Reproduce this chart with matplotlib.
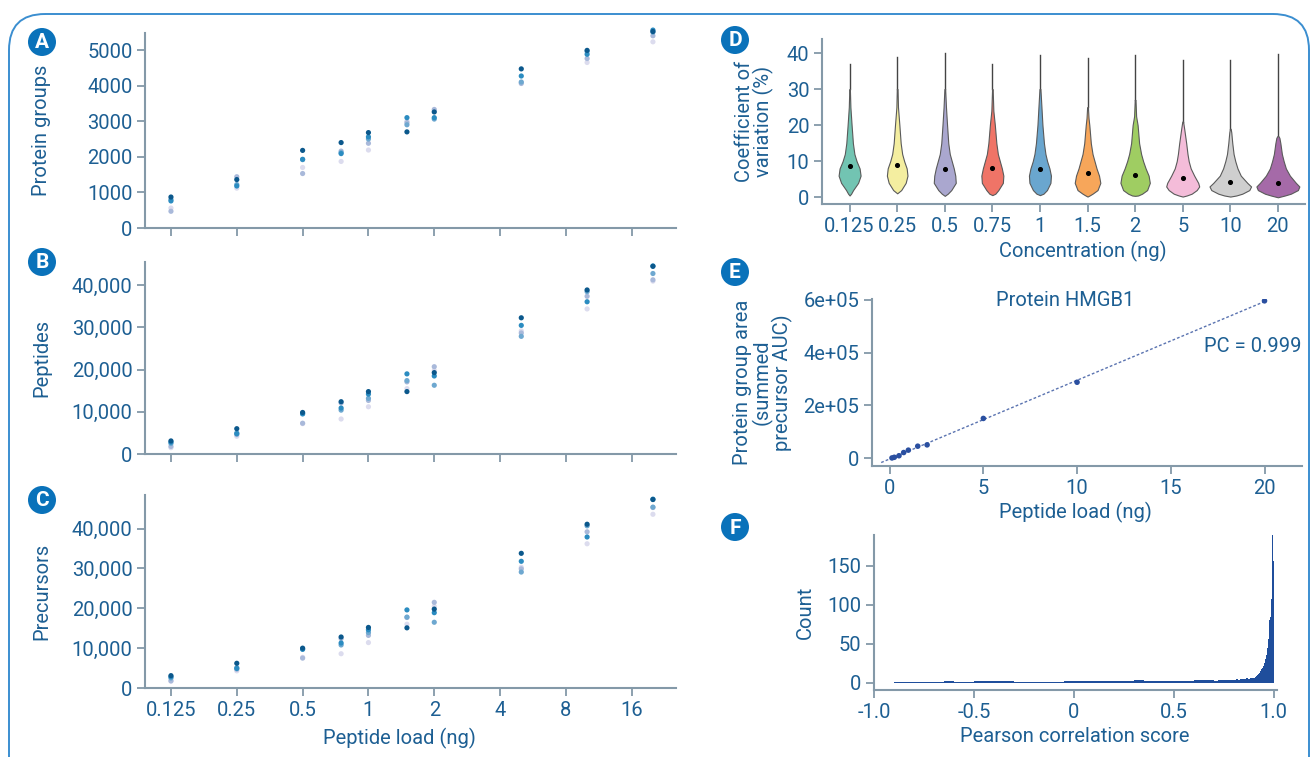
import numpy as np
import matplotlib
matplotlib.use("Agg")
import matplotlib.pyplot as plt
from matplotlib.patches import FancyBboxPatch, Circle

plt.rcParams['font.family'] = ['Roboto', 'DejaVu Sans']

# ---- data: panels A-C (five replicates per peptide load)
loads = [0.125, 0.25, 0.5, 0.75, 1, 1.5, 2, 5, 10, 20]
load_ticks = [0.125, 0.25, 0.5, 1, 2, 4, 8, 16]
load_tick_labels = ["0.125", "0.25", "0.5", "1", "2", "4", "8", "16"]

protein_groups = [
    [560, 1120, 1700, 1870, 2190, 3000, 3290, 4090, 4650, 5230],
    [470, 1440, 1530, 2160, 2380, 2960, 3330, 4060, 4760, 5400],
    [800, 1220, 1920, 2120, 2500, 2900, 3060, 4100, 4960, 5500],
    [760, 1180, 1930, 2090, 2560, 3100, 3100, 4270, 4880, 5560],
    [870, 1360, 2180, 2400, 2680, 2700, 3260, 4470, 4990, 5520],
]
peptides = [
    [1500, 4200, 7200, 8300, 11200, 15500, 19800, 29200, 34400, 41000],
    [1800, 4600, 7300, 12100, 12700, 17100, 20700, 28700, 37400, 41300],
    [2500, 5000, 9600, 10400, 13200, 17400, 16300, 27900, 38500, 42800],
    [2800, 4800, 9500, 10900, 14200, 19000, 18500, 30500, 36100, 44600],
    [3100, 6000, 9850, 12400, 14800, 14800, 19300, 32300, 38900, 44500],
]
precursors = [
    [1700, 4300, 7700, 8600, 11400, 16000, 20500, 30300, 36200, 43600],
    [1800, 4700, 7500, 12400, 13200, 17700, 21500, 29900, 39200, 45300],
    [2500, 5100, 9800, 10800, 13900, 17800, 16500, 29100, 40700, 45400],
    [2800, 4900, 9700, 11300, 14600, 19600, 18900, 31800, 37900, 47400],
    [3100, 6200, 10000, 12800, 15200, 15100, 19800, 33800, 41100, 47300],
]
rep_colors = ["#dcdcee", "#a9b9da", "#6ea8d0", "#2b8cc1", "#0b588c"]

# ---- data: panel D (violin outlines, half widths in px)
conc_labels = ["0.125", "0.25", "0.5", "0.75", "1", "1.5", "2", "5", "10", "20"]
vio_colors = ["#72c4b2", "#f4eea0", "#aaa7cf", "#ef7467", "#6aa6cf",
              "#f7a65a", "#9fcd62", "#f4bcd9", "#cfcfcf", "#a56aa8"]
vio_min = [0.5, 1.1, 0.4, 0.6, 0.6, 0.2, 0.4, 0.2, 0.2, 0.0]
vio_max = [37, 39, 40, 37, 39.5, 38.7, 39.5, 38, 38, 39.7]
vio_median = [8.7, 8.9, 7.9, 8.2, 7.9, 6.7, 6.2, 5.3, 4.2, 4.0]
vio_cv = [
    [1, 2, 4, 6, 8, 10, 12, 15, 20, 25, 30],
    [2, 4, 6, 8, 10, 12, 15, 20, 25, 30],
    [1, 2, 4, 6, 8, 10, 12, 15, 20, 25, 30],
    [1, 2, 4, 6, 8, 10, 12, 15, 20, 24, 30],
    [1, 2, 4, 6, 8, 10, 12, 15, 20, 25, 30],
    [0.5, 1, 2, 4, 6, 8, 10, 12, 15, 20, 22, 25],
    [0.5, 1, 2, 4, 6, 8, 10, 12, 15, 20, 22.5, 27],
    [0.5, 1, 2, 3, 4, 6, 8, 10, 12, 15, 19, 21],
    [0.5, 1, 2, 3, 4, 6, 8, 10, 12, 15, 18, 19],
    [0.5, 1, 2, 3, 4, 6, 8, 10, 12, 15, 16.5, 17],
]
vio_halfwidth = [
    [1.5, 3.5, 8.5, 11, 10, 7, 4.8, 3.3, 2, 0.8, 0.3],
    [4, 8.5, 10.3, 9.5, 7, 5, 3.5, 2.2, 0.8, 0.4],
    [3, 6.5, 11, 10.5, 9, 7, 5, 3.5, 2.3, 1.2, 0.4],
    [3, 6, 10.5, 11, 9.5, 7.5, 5.5, 4, 2.5, 1, 0.3],
    [3.5, 7, 10.5, 11, 9.5, 7.2, 5.5, 4, 2.5, 1.5, 0.5],
    [2, 5, 10, 12.8, 11.5, 9, 7, 5, 3.3, 1.8, 1, 0.4],
    [3, 7, 12, 14.7, 13.5, 10.5, 8, 6, 4, 2.5, 1, 0.4],
    [4, 9, 14, 16.5, 15.5, 11.5, 8, 6, 4.8, 3.5, 1.5, 0.4],
    [6, 12, 19, 20.8, 17, 10.5, 7.2, 5, 3.3, 2, 1, 0.4],
    [7, 13, 20, 21.5, 18, 12, 8, 5.8, 4, 2.5, 1.5, 0.4],
]

# ---- data: panel E
hmgb1_load = [0.125, 0.25, 0.5, 0.75, 1, 1.5, 2, 5, 10, 20]
hmgb1_area = [1500, 4000, 9800, 22000, 31000, 46000, 51000, 151000, 288000, 596000]

# ---- data: panel F (histogram of pearson scores)
hist_edges = ([-0.9 + 0.05 * i for i in range(32)]
              + [0.7 + 0.01 * i for i in range(20)]
              + [0.9 + 0.005 * i for i in range(21)])
hist_counts = ([1.5, 1.5, 1.5, 1.5, 1.5, 2, 1.5, 1.5, 2, 2, 2.5, 2, 1.5, 1.5, 1.5, 1.5,
                1.5, 2, 2, 2, 2, 2, 2.5, 2.5, 3, 2.5, 2.5, 2.5, 2.5, 2.5, 3, 3]
               + [2.5, 2.5, 3, 3, 3.5, 3, 3.5, 3.5, 4, 3.5, 4, 4.5, 4, 4.5, 5, 4.5, 5.5, 5, 5.5, 6]
               + [6, 7, 8, 9.5, 11, 13, 15, 17, 19, 22, 25, 30, 36, 45, 56, 80, 84, 108, 190, 156])

# ---- styling
text_col = "#1d5f93"
spine_col = "#8499a8"
badge_col = "#0a72ba"
border_col = "#3b8ed0"
fs = 14.5

W, H = 1312, 757
fig = plt.figure(figsize=(W / 100, H / 100), dpi=100)

# overlay for border and letter badges (pixel coordinates)
bg = fig.add_axes([0, 0, 1, 1], zorder=-1)
bg.set_xlim(0, W)
bg.set_ylim(H, 0)
bg.axis("off")
bg.add_patch(FancyBboxPatch((9, 14), 1300, 790, boxstyle="round,pad=0,rounding_size=36",
                            facecolor="none", edgecolor=border_col, linewidth=1.4))
for letter, (bx, by) in zip("ABCDEF", [(42, 42), (42, 262), (42, 500),
                                        (735, 40), (735, 272), (735, 527)]):
    bg.add_patch(Circle((bx, by), 14, facecolor=badge_col, edgecolor="none"))
    bg.text(bx, by + 1, letter, color="white", fontsize=15, fontweight="bold",
            ha="center", va="center")


def add_ax(l, t, r, b):
    ax = fig.add_axes([l / W, 1 - b / H, (r - l) / W, (b - t) / H])
    for s in ["top", "right"]:
        ax.spines[s].set_visible(False)
    for s in ["left", "bottom"]:
        ax.spines[s].set_color(spine_col)
        ax.spines[s].set_linewidth(1.5)
    ax.tick_params(colors=spine_col, labelcolor=text_col, labelsize=fs,
                   length=6, width=1.3, pad=3)
    ax.patch.set_alpha(0)
    return ax


# ---- panels A, B, C
scatter_panels = [
    (protein_groups, "Protein groups", (145, 33, 676, 228), 5478, [0, 1000, 2000, 3000, 4000, 5000], False),
    (peptides, "Peptides", (145, 262, 676, 454), 45530, [0, 10000, 20000, 30000, 40000], True),
    (precursors, "Precursors", (145, 495, 676, 688), 48440, [0, 10000, 20000, 30000, 40000], True),
]
for i, (reps, ylab, box, ytop, yt, comma) in enumerate(scatter_panels):
    ax = add_ax(*box)
    for vals, c in zip(reps, rep_colors):
        ax.scatter(loads, vals, s=14, color=c, edgecolors="none", zorder=3, clip_on=False)
    ax.set_xscale("log", base=2)
    ax.set_xlim(0.0951, 25.5)
    ax.set_xticks(load_ticks)
    ax.minorticks_off()
    if i == 2:
        ax.set_xticklabels(load_tick_labels)
        ax.set_xlabel("Peptide load (ng)", color=text_col, fontsize=fs)
        ax.xaxis.set_label_coords(0.48, -0.205)
    else:
        ax.set_xticklabels([])
    ax.set_ylim(0, ytop)
    ax.set_yticks(yt)
    ax.set_yticklabels([f"{v:,}" if comma else str(v) for v in yt])
    ax.set_ylabel(ylab, color=text_col, fontsize=fs)
    ax.yaxis.set_label_coords(-0.177, 0.5)

# ---- panel D: violins
ax = add_ax(822, 39, 1305, 204)
px_per_cat = 47.6
for k in range(len(conc_labels)):
    ys = np.array([vio_min[k]] + vio_cv[k])
    ws = np.array([0] + vio_halfwidth[k]) / px_per_cat
    ax.plot([k, k], [ys[-1], vio_max[k]], color="#444444", lw=1.0, zorder=2)
    ax.fill_betweenx(ys, k - ws, k + ws, facecolor=vio_colors[k],
                     edgecolor="#5a5a5a", linewidth=0.8, zorder=3)
    ax.scatter([k], [vio_median[k]], s=7, color="black", zorder=4)
ax.set_xlim(-0.58, 9.57)
ax.set_ylim(-1.86, 43.9)
ax.set_xticks(range(len(conc_labels)))
ax.set_xticklabels(conc_labels)
ax.set_yticks([0, 10, 20, 30, 40])
ax.set_xlabel("Concentration (ng)", color=text_col, fontsize=fs)
ax.xaxis.set_label_coords(0.54, -0.225)
ax.set_ylabel("Coefficient of\nvariation (%)", color=text_col, fontsize=fs, linespacing=0.95)
ax.yaxis.set_label_coords(-0.099, 0.5)

# ---- panel E: HMGB1 linearity
ax = add_ax(872, 299, 1302, 466)
slope, icpt = np.polyfit(hmgb1_load, hmgb1_area, 1)
xfit = np.array([-0.45, 20])
ax.plot(xfit, icpt + slope * xfit, color="#5a73b0", lw=1.0, ls=(0, (2, 1.5)), zorder=2)
ax.scatter(hmgb1_load, hmgb1_area, s=16, color="#2a4fa0", edgecolors="none", zorder=3)
ax.set_xlim(-0.94, 22.0)
ax.set_ylim(-29000, 603000)
ax.set_xticks([0, 5, 10, 15, 20])
ax.set_yticks([0, 200000, 400000, 600000])
ax.set_yticklabels(["0", "2e+05", "4e+05", "6e+05"])
ax.text(0.449, 0.99, "Protein HMGB1", transform=ax.transAxes, color=text_col,
        fontsize=fs, ha="center", va="center")
ax.text(1.0, 0.713, "PC = 0.999", transform=ax.transAxes, color=text_col,
        fontsize=fs, ha="right", va="center")
ax.set_xlabel("Peptide load (ng)", color=text_col, fontsize=fs)
ax.xaxis.set_label_coords(0.472, -0.215)
ax.set_ylabel("Protein group area\n(summed\nprecursor AUC)", color=text_col,
              fontsize=fs, linespacing=0.95)
ax.yaxis.set_label_coords(-0.184, 0.5)

# ---- panel F: histogram
ax = add_ax(874, 535, 1277, 690)
ax.stairs(hist_counts, hist_edges, fill=True, color="#1f4e9c", zorder=3)
ax.set_xlim(-1.0, 1.017)
ax.set_ylim(-9.4, 189.8)
ax.set_xticks([-1.0, -0.5, 0, 0.5, 1.0])
ax.set_xticklabels(["-1.0", "-0.5", "0", "0.5", "1.0"])
ax.set_yticks([0, 50, 100, 150])
ax.set_xlabel("Pearson correlation score", color=text_col, fontsize=fs)
ax.xaxis.set_label_coords(0.499, -0.24)
ax.set_ylabel("Count", color=text_col, fontsize=fs)
ax.yaxis.set_label_coords(-0.146, 0.5)

fig.savefig("out.png", dpi=100)
